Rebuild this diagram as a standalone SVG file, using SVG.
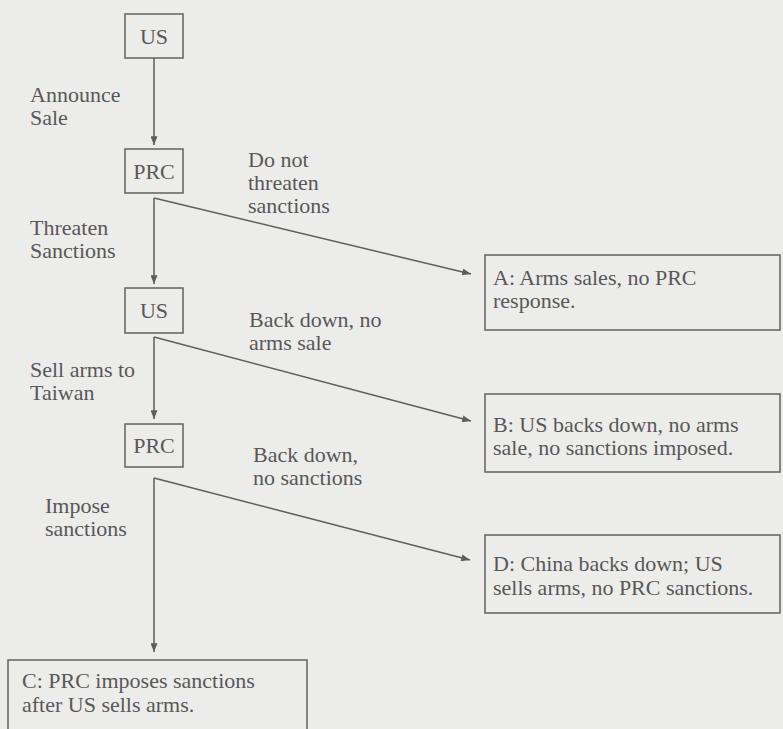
<svg xmlns="http://www.w3.org/2000/svg" width="783" height="729" viewBox="0 0 783 729">
<defs>
<marker id="ah" viewBox="0 0 10 8" refX="10" refY="4" markerWidth="10" markerHeight="7" markerUnits="userSpaceOnUse" orient="auto">
<path d="M0,0 L10,4 L0,8 Z" fill="#5e5e5e"/>
</marker>
<style>
text{font-family:'Liberation Serif','Times New Roman',serif;font-size:22px;fill:#585858}
.box{fill:none;stroke:#6a6a6a;stroke-width:1.6}
.c{text-anchor:middle}
.ln{fill:none;stroke:#5e5e5e;stroke-width:1.5}
</style>
</defs>
<rect width="783" height="729" fill="#ececea"/>
<g id="us1"><rect class="box" x="125" y="14" width="58" height="44"/><text class="c" x="154" y="44">US</text></g>
<g id="prc1"><rect class="box" x="125" y="149" width="58" height="44"/><text class="c" x="154" y="179">PRC</text></g>
<g id="us2"><rect class="box" x="125" y="288" width="58" height="45"/><text class="c" x="154" y="318">US</text></g>
<g id="prc2"><rect class="box" x="125" y="424" width="58" height="43"/><text class="c" x="154" y="453">PRC</text></g>
<g id="outA"><rect class="box" x="485" y="255" width="295" height="75"/><text x="493" y="285">A: Arms sales, no PRC</text><text x="493" y="308">response.</text></g>
<g id="outB"><rect class="box" x="485" y="394" width="295" height="78"/><text x="493" y="432">B: US backs down, no arms</text><text x="493" y="455">sale, no sanctions imposed.</text></g>
<g id="outD"><rect class="box" x="485" y="535" width="295" height="78"/><text x="493" y="571">D: China backs down; US</text><text x="493" y="595">sells arms, no PRC sanctions.</text></g>
<g id="outC"><rect class="box" x="8" y="660" width="299" height="80"/><text x="22" y="688">C: PRC imposes sanctions</text><text x="22" y="712">after US sells arms.</text></g>
<g id="connectors">
<path class="ln" d="M154,58 L154,145" marker-end="url(#ah)"/>
<path class="ln" d="M154,198 L154,284" marker-end="url(#ah)"/>
<path class="ln" d="M154,198 L471,274" marker-end="url(#ah)"/>
<path class="ln" d="M154,337 L154,419" marker-end="url(#ah)"/>
<path class="ln" d="M154,337 L471,421" marker-end="url(#ah)"/>
<path class="ln" d="M154,478 L154,652" marker-end="url(#ah)"/>
<path class="ln" d="M154,478 L470,560" marker-end="url(#ah)"/>
</g>
<g id="labels">
<text x="30" y="102">Announce</text><text x="30" y="125">Sale</text>
<text x="248" y="167">Do not</text><text x="248" y="190">threaten</text><text x="248" y="213">sanctions</text>
<text x="30" y="235">Threaten</text><text x="30" y="258">Sanctions</text>
<text x="249" y="327">Back down, no</text><text x="249" y="350">arms sale</text>
<text x="30" y="377">Sell arms to</text><text x="30" y="400">Taiwan</text>
<text x="253" y="462">Back down,</text><text x="253" y="485">no sanctions</text>
<text x="45" y="513">Impose</text><text x="45" y="536">sanctions</text>
</g>
</svg>
